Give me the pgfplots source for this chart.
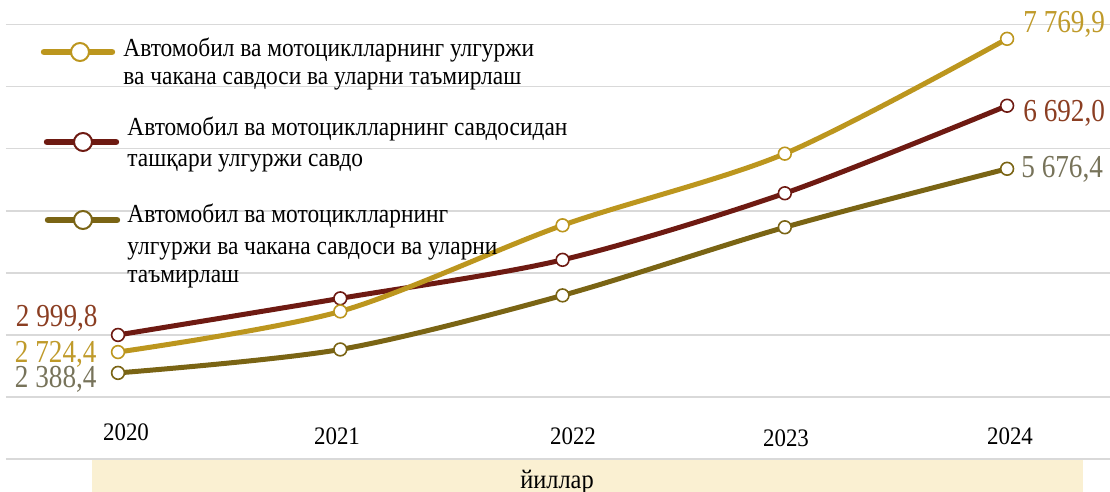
\documentclass[border=0pt]{standalone}
\usepackage{fontspec}
\setmainfont{Liberation Serif}
\newfontfamily\legfont{Liberation Serif}[FakeStretch=0.9]
\newfontfamily\valfont{Liberation Serif}[FakeStretch=0.85]
\newfontfamily\yrfont{Liberation Serif}[FakeStretch=0.91]
\usepackage{pgfplots}
\pgfplotsset{compat=1.18}
\definecolor{cgold}{HTML}{BC961E}
\definecolor{cred}{HTML}{6E1A12}
\definecolor{colive}{HTML}{7A6414}
\definecolor{lgold}{HTML}{BF9A2A}
\definecolor{lred}{HTML}{8B3E22}
\definecolor{lolive}{HTML}{77735A}
\definecolor{band}{HTML}{FAF0D2}
\definecolor{gridc}{HTML}{D9D9D9}
\begin{document}
\begin{tikzpicture}
\begin{axis}[
  at={(3pt,0pt)}, anchor=north west,
  scale only axis, width=552pt, height=246pt,
  xmin=2019.496, xmax=2024.463, ymin=470, ymax=8395,
  axis line style={draw=none}, tick style={draw=none},
  xtick=\empty, ytick={1000,2000,...,8000}, yticklabels=\empty,
  ymajorgrids, grid style={color=gridc, line width=0.8pt},
  clip=false,
]
\addplot[smooth, tension=0.5, color=colive, line width=2.5pt, mark=*, mark size=3.2pt,
  mark options={fill=white, draw=colive, line width=0.8pt}]
  coordinates {(2020,2388.4) (2021,2766) (2022,3637) (2023,4734) (2024,5676.4)};
\addplot[smooth, tension=0.5, color=cred, line width=2.5pt, mark=*, mark size=3.2pt,
  mark options={fill=white, draw=cred, line width=0.8pt}]
  coordinates {(2020,2999.8) (2021,3589) (2022,4210) (2023,5282) (2024,6692.0)};
\addplot[smooth, tension=0.5, color=cgold, line width=2.5pt, mark=*, mark size=3.2pt,
  mark options={fill=white, draw=cgold, line width=0.8pt}]
  coordinates {(2020,2724.4) (2021,3379) (2022,4766) (2023,5920) (2024,7769.9)};
\end{axis}
\begin{scope}[x=0.5pt, y=-0.5pt]
\fill[band] (92,460) rectangle (1083,492);
\node[font=\yrfont\fontsize{13.4pt}{14pt}\selectfont, anchor=base, inner sep=0pt] at (557,488) {йиллар};
\begin{scope}[every node/.style={font=\yrfont\fontsize{12.6pt}{14pt}\selectfont, anchor=base, inner sep=0pt}]
\node at (126,440) {2020};
\node at (337,444) {2021};
\node at (573,444) {2022};
\node at (786,446) {2023};
\node at (1010,444) {2024};
\end{scope}
\begin{scope}[every node/.style={font=\valfont\fontsize{16pt}{17pt}\selectfont, inner sep=0pt}]
\node[anchor=base west, text=lgold] at (1023,33) {7 769,9};
\node[anchor=base west, text=lred] at (1023,122) {6 692,0};
\node[anchor=base west, text=lolive] at (1021,178) {5 676,4};
\node[anchor=base east, text=lred] at (98,327) {2 999,8};
\node[anchor=base east, text=lgold] at (97,363) {2 724,4};
\node[anchor=base east, text=lolive] at (97,387) {2 388,4};
\end{scope}
% legend
\draw[cgold, line width=3.2pt, line cap=round] (44,52) -- (112,52);
\draw[cgold, fill=white, line width=1pt] (80,52) circle (4.5pt);
\draw[cred, line width=3.2pt, line cap=round] (47,142) -- (116,142);
\draw[cred, fill=white, line width=1pt] (83,142) circle (4.5pt);
\draw[colive, line width=3.2pt, line cap=round] (48,220) -- (117,220);
\draw[colive, fill=white, line width=1pt] (83,220) circle (4.5pt);
\begin{scope}[every node/.style={font=\legfont\fontsize{13pt}{15pt}\selectfont, anchor=base west, inner sep=0pt}]
\node at (123,57) {Автомобил ва мотоциклларнинг улгуржи};
\node at (123,85) {ва чакана савдоси ва уларни таъмирлаш};
\node at (127,136) {Автомобил ва мотоциклларнинг савдосидан};
\node at (127,167) {ташқари улгуржи савдо};
\node at (127,223) {Автомобил ва мотоциклларнинг};
\node at (127,255) {улгуржи ва чакана савдоси ва уларни};
\node at (127,283) {таъмирлаш};
\end{scope}
\end{scope}
\pgfresetboundingbox
\path[use as bounding box] (0,0) rectangle (555pt,-246pt);
\end{tikzpicture}
\end{document}
